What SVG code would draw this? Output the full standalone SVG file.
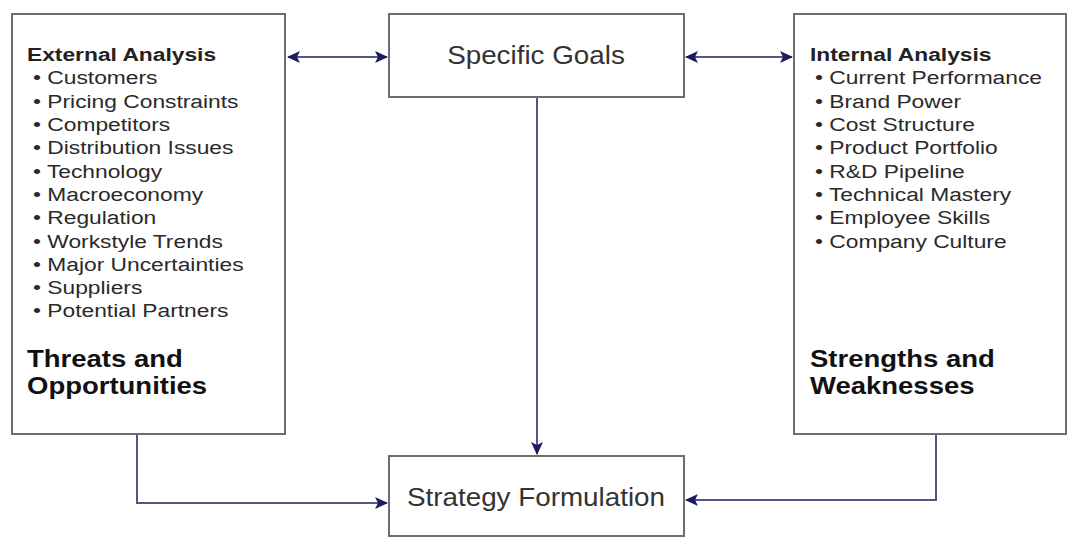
<svg xmlns="http://www.w3.org/2000/svg" width="1067" height="538" viewBox="0 0 1067 538">
  <style>
    .box { fill: #ffffff; stroke: #6e6e6e; stroke-width: 2; }
    .wire { fill: none; stroke: #55558a; stroke-width: 2; }
    .head { font-family: "Liberation Sans", Arial, sans-serif; font-weight: bold; font-size: 19px; fill: #222222; }
    .item { font-family: "Liberation Sans", Arial, sans-serif; font-size: 19px; fill: #2a2a2a; }
    .big { font-family: "Liberation Sans", Arial, sans-serif; font-weight: bold; font-size: 23.5px; fill: #111111; }
    .title { font-family: "Liberation Sans", Arial, sans-serif; font-size: 26px; fill: #333333; text-anchor: middle; }
  </style>
  <defs>
    <marker id="arrow" viewBox="0 0 13 12" refX="12" refY="6" markerWidth="13" markerHeight="12" markerUnits="userSpaceOnUse" orient="auto-start-reverse">
      <path d="M0,0 L13,6 L0,12 L3,6 z" fill="#1b1b5e"/>
    </marker>
  </defs>
  <rect width="1067" height="538" fill="#ffffff"/>

  <!-- connectors -->
  <g id="connectors">
    <line class="wire" x1="288" y1="57" x2="387" y2="57" marker-start="url(#arrow)" marker-end="url(#arrow)"/>
    <line class="wire" x1="686" y1="57" x2="792" y2="57" marker-start="url(#arrow)" marker-end="url(#arrow)"/>
    <line class="wire" x1="537" y1="98" x2="537" y2="454" marker-end="url(#arrow)"/>
    <polyline class="wire" points="137,435 137,503 387,503" marker-end="url(#arrow)"/>
    <polyline class="wire" points="936,435 936,500 686,500" marker-end="url(#arrow)"/>
  </g>

  <!-- external analysis -->
  <g id="external-analysis">
    <rect class="box" x="12" y="14" width="273" height="420"/>
    <g transform="translate(27,0) scale(1.2,1)">
      <text class="head" x="0" y="61">External Analysis</text>
    </g>
    <g transform="translate(33,0) scale(1.2,1)" class="item">
      <text x="0" y="84.5">• Customers</text>
      <text x="0" y="107.8">• Pricing Constraints</text>
      <text x="0" y="131.1">• Competitors</text>
      <text x="0" y="154.4">• Distribution Issues</text>
      <text x="0" y="177.7">• Technology</text>
      <text x="0" y="201">• Macroeconomy</text>
      <text x="0" y="224.3">• Regulation</text>
      <text x="0" y="247.6">• Workstyle Trends</text>
      <text x="0" y="270.9">• Major Uncertainties</text>
      <text x="0" y="294.2">• Suppliers</text>
      <text x="0" y="317.5">• Potential Partners</text>
    </g>
    <g transform="translate(27,0) scale(1.17,1)">
      <text class="big" x="0" y="367">Threats and</text>
      <text class="big" x="0" y="394">Opportunities</text>
    </g>
  </g>

  <!-- specific goals -->
  <g id="specific-goals">
    <rect class="box" x="389" y="14" width="295" height="83"/>
    <g transform="translate(536,0) scale(1.07,1)">
      <text class="title" x="0" y="64">Specific Goals</text>
    </g>
  </g>

  <!-- internal analysis -->
  <g id="internal-analysis">
    <rect class="box" x="794" y="14" width="272" height="420"/>
    <g transform="translate(810,0) scale(1.2,1)">
      <text class="head" x="0" y="61">Internal Analysis</text>
    </g>
    <g transform="translate(815,0) scale(1.2,1)" class="item">
      <text x="0" y="84.5">• Current Performance</text>
      <text x="0" y="107.8">• Brand Power</text>
      <text x="0" y="131.1">• Cost Structure</text>
      <text x="0" y="154.4">• Product Portfolio</text>
      <text x="0" y="177.7">• R&amp;D Pipeline</text>
      <text x="0" y="201">• Technical Mastery</text>
      <text x="0" y="224.3">• Employee Skills</text>
      <text x="0" y="247.6">• Company Culture</text>
    </g>
    <g transform="translate(810,0) scale(1.17,1)">
      <text class="big" x="0" y="367">Strengths and</text>
      <text class="big" x="0" y="394">Weaknesses</text>
    </g>
  </g>

  <!-- strategy formulation -->
  <g id="strategy-formulation">
    <rect class="box" x="389" y="456" width="295" height="80"/>
    <g transform="translate(536,0) scale(1.07,1)">
      <text class="title" x="0" y="506">Strategy Formulation</text>
    </g>
  </g>
</svg>
